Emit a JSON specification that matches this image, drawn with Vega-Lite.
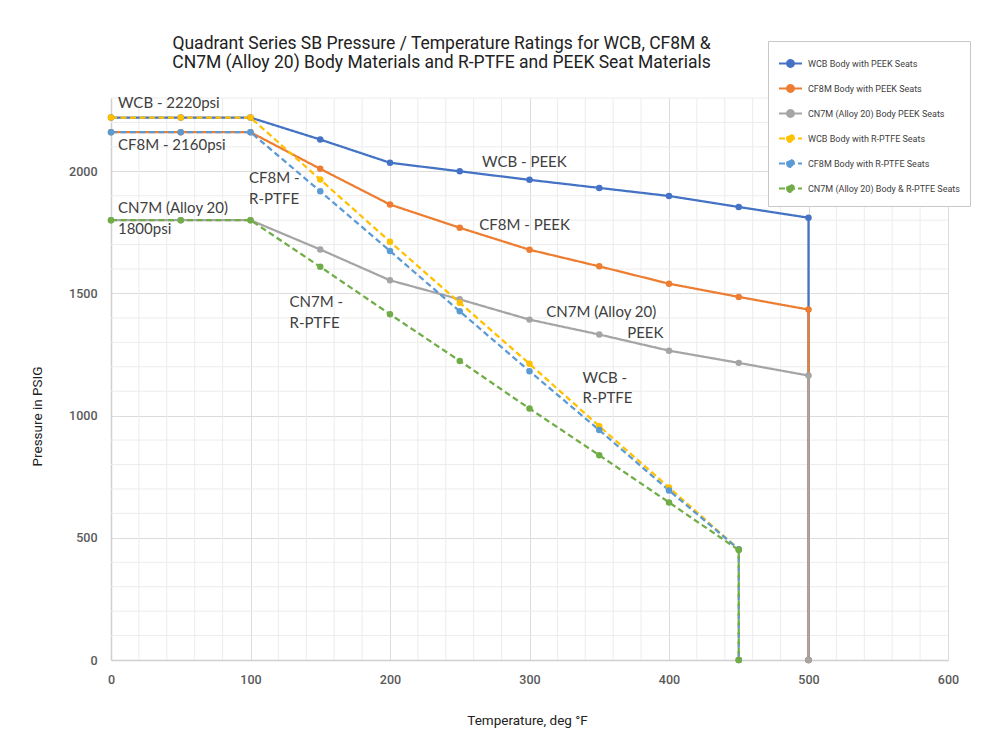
{
  "$schema": "https://vega.github.io/schema/vega-lite/v6.json",
  "autosize": {"type": "none"},
  "padding": {"left": 111, "top": 98, "right": 60, "bottom": 91},
  "width": 837,
  "height": 562,
  "background": "white",
  "config": {"view": {"stroke": null}, "font": "Roboto"},
  "title": {
    "text": ["Quadrant Series SB Pressure / Temperature Ratings for WCB, CF8M &", "CN7M (Alloy 20) Body Materials and R-PTFE and PEEK Seat Materials"],
    "font": "Roboto",
    "fontSize": 17.5,
    "fontWeight": "normal",
    "color": "#222222",
    "anchor": "middle",
    "frame": "group",
    "dx": -88,
    "dy": 58,
    "offset": 27,
    "lineHeight": 19
  },
  "datasets": {
    "series": [
      {"s": "WCB Body with PEEK Seats", "t": 0, "p": 2220},
      {"s": "WCB Body with PEEK Seats", "t": 50, "p": 2220},
      {"s": "WCB Body with PEEK Seats", "t": 100, "p": 2220},
      {"s": "WCB Body with PEEK Seats", "t": 150, "p": 2130},
      {"s": "WCB Body with PEEK Seats", "t": 200, "p": 2035},
      {"s": "WCB Body with PEEK Seats", "t": 250, "p": 2000},
      {"s": "WCB Body with PEEK Seats", "t": 300, "p": 1965},
      {"s": "WCB Body with PEEK Seats", "t": 350, "p": 1932},
      {"s": "WCB Body with PEEK Seats", "t": 400, "p": 1899},
      {"s": "WCB Body with PEEK Seats", "t": 450, "p": 1854},
      {"s": "WCB Body with PEEK Seats", "t": 500, "p": 1810},
      {"s": "WCB Body with PEEK Seats", "t": 500, "p": 0},
      {"s": "CF8M Body with PEEK Seats", "t": 0, "p": 2160},
      {"s": "CF8M Body with PEEK Seats", "t": 50, "p": 2160},
      {"s": "CF8M Body with PEEK Seats", "t": 100, "p": 2160},
      {"s": "CF8M Body with PEEK Seats", "t": 150, "p": 2010},
      {"s": "CF8M Body with PEEK Seats", "t": 200, "p": 1864},
      {"s": "CF8M Body with PEEK Seats", "t": 250, "p": 1769},
      {"s": "CF8M Body with PEEK Seats", "t": 300, "p": 1679},
      {"s": "CF8M Body with PEEK Seats", "t": 350, "p": 1611},
      {"s": "CF8M Body with PEEK Seats", "t": 400, "p": 1540},
      {"s": "CF8M Body with PEEK Seats", "t": 450, "p": 1486},
      {"s": "CF8M Body with PEEK Seats", "t": 500, "p": 1434},
      {"s": "CF8M Body with PEEK Seats", "t": 500, "p": 0},
      {"s": "CN7M (Alloy 20) Body PEEK Seats", "t": 0, "p": 1800},
      {"s": "CN7M (Alloy 20) Body PEEK Seats", "t": 50, "p": 1800},
      {"s": "CN7M (Alloy 20) Body PEEK Seats", "t": 100, "p": 1800},
      {"s": "CN7M (Alloy 20) Body PEEK Seats", "t": 150, "p": 1680},
      {"s": "CN7M (Alloy 20) Body PEEK Seats", "t": 200, "p": 1554},
      {"s": "CN7M (Alloy 20) Body PEEK Seats", "t": 250, "p": 1476},
      {"s": "CN7M (Alloy 20) Body PEEK Seats", "t": 300, "p": 1393},
      {"s": "CN7M (Alloy 20) Body PEEK Seats", "t": 350, "p": 1332},
      {"s": "CN7M (Alloy 20) Body PEEK Seats", "t": 400, "p": 1266},
      {"s": "CN7M (Alloy 20) Body PEEK Seats", "t": 450, "p": 1216},
      {"s": "CN7M (Alloy 20) Body PEEK Seats", "t": 500, "p": 1164},
      {"s": "CN7M (Alloy 20) Body PEEK Seats", "t": 500, "p": 0},
      {"s": "WCB Body with R-PTFE Seats", "t": 0, "p": 2220},
      {"s": "WCB Body with R-PTFE Seats", "t": 50, "p": 2220},
      {"s": "WCB Body with R-PTFE Seats", "t": 100, "p": 2220},
      {"s": "WCB Body with R-PTFE Seats", "t": 150, "p": 1966},
      {"s": "WCB Body with R-PTFE Seats", "t": 200, "p": 1712},
      {"s": "WCB Body with R-PTFE Seats", "t": 250, "p": 1462},
      {"s": "WCB Body with R-PTFE Seats", "t": 300, "p": 1212},
      {"s": "WCB Body with R-PTFE Seats", "t": 350, "p": 957},
      {"s": "WCB Body with R-PTFE Seats", "t": 400, "p": 706},
      {"s": "WCB Body with R-PTFE Seats", "t": 450, "p": 453},
      {"s": "WCB Body with R-PTFE Seats", "t": 450, "p": 0},
      {"s": "CF8M Body with R-PTFE Seats", "t": 0, "p": 2160},
      {"s": "CF8M Body with R-PTFE Seats", "t": 50, "p": 2160},
      {"s": "CF8M Body with R-PTFE Seats", "t": 100, "p": 2160},
      {"s": "CF8M Body with R-PTFE Seats", "t": 150, "p": 1918},
      {"s": "CF8M Body with R-PTFE Seats", "t": 200, "p": 1674},
      {"s": "CF8M Body with R-PTFE Seats", "t": 250, "p": 1427},
      {"s": "CF8M Body with R-PTFE Seats", "t": 300, "p": 1182},
      {"s": "CF8M Body with R-PTFE Seats", "t": 350, "p": 941},
      {"s": "CF8M Body with R-PTFE Seats", "t": 400, "p": 694},
      {"s": "CF8M Body with R-PTFE Seats", "t": 450, "p": 453},
      {"s": "CF8M Body with R-PTFE Seats", "t": 450, "p": 0},
      {"s": "CN7M (Alloy 20) Body & R-PTFE Seats", "t": 0, "p": 1800},
      {"s": "CN7M (Alloy 20) Body & R-PTFE Seats", "t": 50, "p": 1800},
      {"s": "CN7M (Alloy 20) Body & R-PTFE Seats", "t": 100, "p": 1800},
      {"s": "CN7M (Alloy 20) Body & R-PTFE Seats", "t": 150, "p": 1609},
      {"s": "CN7M (Alloy 20) Body & R-PTFE Seats", "t": 200, "p": 1415},
      {"s": "CN7M (Alloy 20) Body & R-PTFE Seats", "t": 250, "p": 1224},
      {"s": "CN7M (Alloy 20) Body & R-PTFE Seats", "t": 300, "p": 1029},
      {"s": "CN7M (Alloy 20) Body & R-PTFE Seats", "t": 350, "p": 838},
      {"s": "CN7M (Alloy 20) Body & R-PTFE Seats", "t": 400, "p": 645},
      {"s": "CN7M (Alloy 20) Body & R-PTFE Seats", "t": 450, "p": 450},
      {"s": "CN7M (Alloy 20) Body & R-PTFE Seats", "t": 450, "p": 0}
    ],
    "notes": [
      {"label": "WCB - 2220psi", "t": 5, "p": 2278},
      {"label": "CF8M - 2160psi", "t": 5, "p": 2106},
      {"label": "CF8M -", "t": 99, "p": 1974},
      {"label": "R-PTFE", "t": 99, "p": 1887},
      {"label": "CN7M (Alloy 20)", "t": 5, "p": 1848},
      {"label": "1800psi", "t": 5, "p": 1765},
      {"label": "WCB - PEEK", "t": 266, "p": 2037},
      {"label": "CF8M - PEEK", "t": 264, "p": 1779},
      {"label": "CN7M (Alloy 20)", "t": 312, "p": 1423},
      {"label": "PEEK", "t": 370, "p": 1337},
      {"label": "CN7M -", "t": 128, "p": 1465},
      {"label": "R-PTFE", "t": 128, "p": 1380},
      {"label": "WCB -", "t": 338, "p": 1153},
      {"label": "R-PTFE", "t": 338, "p": 1072}
    ],
    "minorT": [
      {"v": 20}, {"v": 40}, {"v": 60}, {"v": 80},
      {"v": 120}, {"v": 140}, {"v": 160}, {"v": 180},
      {"v": 220}, {"v": 240}, {"v": 260}, {"v": 280},
      {"v": 320}, {"v": 340}, {"v": 360}, {"v": 380},
      {"v": 420}, {"v": 440}, {"v": 460}, {"v": 480},
      {"v": 520}, {"v": 540}, {"v": 560}, {"v": 580}
    ],
    "minorP": [
      {"v": 100}, {"v": 200}, {"v": 300}, {"v": 400},
      {"v": 600}, {"v": 700}, {"v": 800}, {"v": 900},
      {"v": 1100}, {"v": 1200}, {"v": 1300}, {"v": 1400},
      {"v": 1600}, {"v": 1700}, {"v": 1800}, {"v": 1900},
      {"v": 2100}, {"v": 2200}, {"v": 2300}
    ]
  },
  "layer": [
    {
      "data": {"name": "minorT"},
      "mark": {"type": "rule", "color": "#ececec", "strokeWidth": 1},
      "encoding": {
        "x": {"field": "v", "type": "quantitative", "title": "Temperature, deg °F"}
      }
    },
    {
      "data": {"name": "minorP"},
      "mark": {"type": "rule", "color": "#ececec", "strokeWidth": 1},
      "encoding": {
        "y": {"field": "v", "type": "quantitative", "title": "Pressure in PSIG"}
      }
    },
    {
      "data": {"name": "series"},
      "mark": {"type": "line", "strokeWidth": 2.25, "point": {"filled": true, "size": 42}},
      "encoding": {
        "x": {
          "field": "t", "type": "quantitative",
          "title": "Temperature, deg °F",
          "scale": {"domain": [0, 600], "nice": false},
          "axis": {
            "values": [0, 100, 200, 300, 400, 500, 600],
            "labelOverlap": false,
            "labelFlush": false,
            "grid": true,
            "gridColor": "#dcdcdc",
            "gridWidth": 1,
            "ticks": false,
            "domain": true,
            "domainColor": "#d0d0d0",
            "domainWidth": 1.5,
            "labelFont": "Roboto",
            "labelFontSize": 12.5,
            "labelFontWeight": 500,
            "labelColor": "#595959",
            "labelPadding": 13,
            "titleFont": "Roboto",
            "titleFontSize": 13.5,
            "titleFontWeight": "normal",
            "titleColor": "#222222",
            "titleX": 416,
            "titleY": 60,
            "titleAlign": "center",
            "titleBaseline": "middle"
          }
        },
        "y": {
          "field": "p", "type": "quantitative",
          "title": "Pressure in PSIG",
          "scale": {"domain": [0, 2300], "nice": false},
          "axis": {
            "values": [0, 500, 1000, 1500, 2000],
            "format": "d",
            "labelOverlap": false,
            "labelFlush": false,
            "grid": true,
            "gridColor": "#dcdcdc",
            "gridWidth": 1,
            "ticks": false,
            "domain": true,
            "domainColor": "#d0d0d0",
            "domainWidth": 1.5,
            "labelFont": "Roboto",
            "labelFontSize": 12.5,
            "labelFontWeight": 500,
            "labelColor": "#595959",
            "labelPadding": 14,
            "titleFont": "Roboto",
            "titleFontSize": 13.5,
            "titleFontWeight": "normal",
            "titleColor": "#222222",
            "titleAngle": -90,
            "titleX": -74,
            "titleY": 318,
            "titleAlign": "center",
            "titleBaseline": "middle"
          }
        },
        "color": {
          "field": "s", "type": "nominal",
          "scale": {
            "domain": ["WCB Body with PEEK Seats", "CF8M Body with PEEK Seats", "CN7M (Alloy 20) Body PEEK Seats", "WCB Body with R-PTFE Seats", "CF8M Body with R-PTFE Seats", "CN7M (Alloy 20) Body & R-PTFE Seats"],
            "range": ["#4472C4", "#ED7D31", "#A5A5A5", "#FFC000", "#5B9BD5", "#70AD47"]
          },
          "legend": {
            "title": null,
            "orient": "none",
            "legendX": 657,
            "legendY": -57,
            "symbolType": "M-1,0H1M-0.3,0A0.3,0.3 0 1,0 0.3,0A0.3,0.3 0 1,0 -0.3,0Z",
            "symbolSize": 529,
            "symbolStrokeWidth": 2,
            "labelFont": "Roboto",
            "labelFontSize": 9,
            "labelColor": "#404040",
            "labelOffset": 5,
            "rowPadding": 5,
            "padding": 10,
            "strokeColor": "#c8c8c8",
            "fillColor": "white",
            "encode": {"symbols": {"update": {"fill": {"scale": "color", "field": "value"}}}}
          }
        },
        "strokeDash": {
          "field": "s", "type": "nominal",
          "scale": {
            "domain": ["WCB Body with PEEK Seats", "CF8M Body with PEEK Seats", "CN7M (Alloy 20) Body PEEK Seats", "WCB Body with R-PTFE Seats", "CF8M Body with R-PTFE Seats", "CN7M (Alloy 20) Body & R-PTFE Seats"],
            "range": [[1, 0], [1, 0], [1, 0], [6, 3.5], [6, 3.5], [6, 3.5]]
          }
        },
        "order": {"value": null}
      }
    },
    {
      "data": {"name": "notes"},
      "mark": {"type": "text", "align": "left", "baseline": "middle", "font": "Lato", "fontSize": 15, "color": "#404040"},
      "encoding": {
        "x": {"field": "t", "type": "quantitative", "title": "Temperature, deg °F"},
        "y": {"field": "p", "type": "quantitative", "title": "Pressure in PSIG"},
        "text": {"field": "label", "type": "nominal"}
      }
    }
  ]
}
